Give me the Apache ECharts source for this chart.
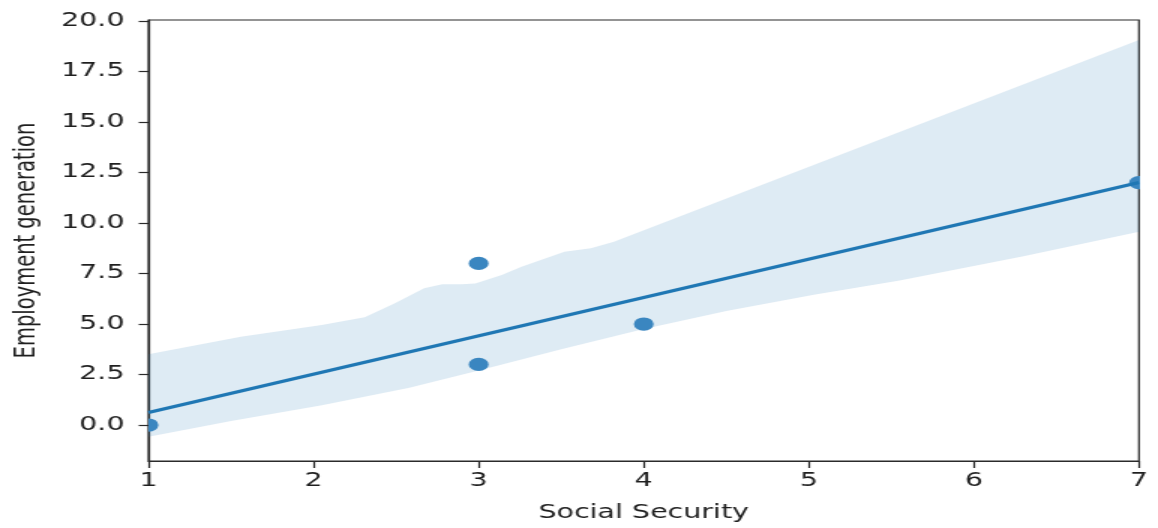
<!DOCTYPE html>
<html>
<head>
<meta charset="utf-8">
<script src="https://cdn.jsdelivr.net/npm/echarts@6/dist/echarts.min.js"></script>
<style>
  html, body { margin: 0; padding: 0; background: #ffffff; overflow: hidden; }
  #wrap { width: 1158px; height: 528px; overflow: hidden; }
  /* the figure is laid out at 772px wide and widened 1.5x horizontally */
  #chart { width: 772px; height: 528px; transform: scaleX(1.5); transform-origin: 0 0; }
</style>
</head>
<body>
<div id="wrap"><div id="chart"></div></div>
<script>
// observations
const socialSecurity = [1, 3, 3, 4, 7];
const employment = [0, 8, 3, 5, 12];

// fitted regression line (end points)
const fitX = [1, 7];
const fitY = [0.62, 12.01];

// 95% confidence band edges
const ciUpperX = [1, 1.56, 2.05, 2.31, 2.49, 2.67, 2.78, 2.90, 2.98, 3.14, 3.26, 3.52, 3.68, 3.82, 7];
const ciUpperY = [3.5, 4.37, 4.95, 5.33, 6.02, 6.77, 6.97, 6.97, 7.01, 7.43, 7.84, 8.58, 8.75, 9.07, 19.06];
const ciLowerX = [1, 1.5, 2.05, 2.58, 3, 3.5, 4, 4.5, 5.03, 5.55, 6.3, 7];
const ciLowerY = [-0.58, 0.2, 0.98, 1.85, 2.7, 3.75, 4.75, 5.65, 6.45, 7.15, 8.35, 9.57];

// axis ticks
const xTicks = [1, 2, 3, 4, 5, 6, 7];
const yTicks = [0, 2.5, 5, 7.5, 10, 12.5, 15, 17.5, 20];

const BLUE = '#1f77b4';
const DOT = '#3a86c0';
const INK = '#1f1f1f';
const SPINE = '#2b2b2b';
const FONT = 'DejaVu Sans';

const chart = echarts.init(document.getElementById('chart'), null, { renderer: 'canvas' });

const scatterData = socialSecurity.map((x, i) => [x, employment[i]]);
const fitData = fitX.map((x, i) => [x, fitY[i]]);

chart.setOption({
  animation: false,
  backgroundColor: '#ffffff',
  grid: {
    left: 97, right: 12.7, top: 20, bottom: 67,
    show: true, borderColor: SPINE, borderWidth: 1.2,
    backgroundColor: 'transparent'
  },
  xAxis: {
    type: 'value',
    min: xTicks[0], max: xTicks[xTicks.length - 1], interval: 1,
    name: 'Social Security',
    nameLocation: 'middle', nameGap: 43,
    nameTextStyle: { fontFamily: FONT, fontSize: 19, color: INK },
    splitLine: { show: false },
    axisLine: { show: true, onZero: false, lineStyle: { color: SPINE, width: 1.2 } },
    axisTick: { show: true, length: 7, lineStyle: { color: SPINE, width: 1.2 } },
    axisLabel: { fontFamily: FONT, fontSize: 19, color: INK, margin: 11 }
  },
  yAxis: {
    type: 'value',
    min: -1.78, max: 20.05,
    name: 'Employment generation',
    nameLocation: 'middle', nameGap: 71,
    nameTextStyle: { fontFamily: FONT, fontSize: 19.5, color: INK },
    splitLine: { show: false },
    axisLine: { show: true, onZero: false, lineStyle: { color: SPINE, width: 1.2 } },
    axisTick: { show: true, length: 6.5, customValues: yTicks, lineStyle: { color: SPINE, width: 1.2 } },
    axisLabel: {
      fontFamily: FONT, fontSize: 19, color: INK, margin: 16,
      customValues: yTicks,
      formatter: v => Number(v).toFixed(1)
    }
  },
  series: [
    {
      // confidence band polygon built through the axis scales
      type: 'custom',
      clip: true,
      z: 1,
      silent: true,
      data: [[fitX[0], fitY[0]]],
      renderItem: function (params, api) {
        const pts = [];
        for (let i = 0; i < ciUpperX.length; i++) pts.push(api.coord([ciUpperX[i], ciUpperY[i]]));
        for (let i = ciLowerX.length - 1; i >= 0; i--) pts.push(api.coord([ciLowerX[i], ciLowerY[i]]));
        return {
          type: 'polygon',
          shape: { points: pts },
          style: { fill: 'rgba(31,119,180,0.15)', stroke: null }
        };
      }
    },
    {
      // observation dots, clipped to the plotting area
      type: 'custom',
      clip: true,
      z: 2,
      silent: true,
      data: scatterData,
      renderItem: function (params, api) {
        const p = api.coord([api.value(0), api.value(1)]);
        return {
          type: 'circle',
          shape: { cx: p[0], cy: p[1], r: 6.6 },
          style: { fill: DOT }
        };
      }
    },
    {
      type: 'line',
      z: 3,
      clip: true,
      showSymbol: false,
      lineStyle: { color: BLUE, width: 3.2 },
      data: fitData
    }
  ]
});
</script>
</body>
</html>
